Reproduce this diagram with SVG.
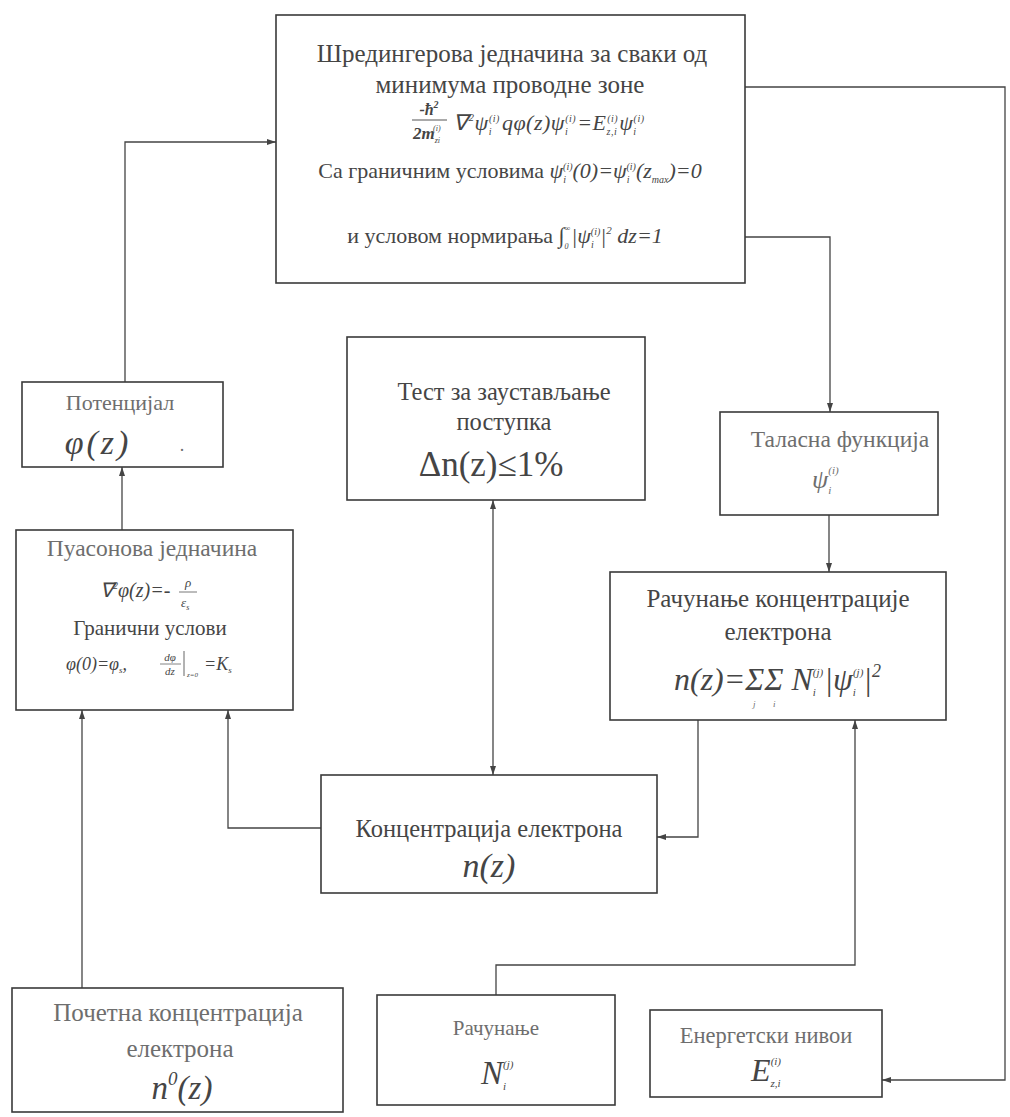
<svg xmlns="http://www.w3.org/2000/svg" width="1010" height="1117" viewBox="0 0 1010 1117">
<style>
.bx{fill:#fff;stroke:#3a3a3a;stroke-width:1.6}
.c{fill:none;stroke:#444;stroke-width:1.3}
.t{font-family:"Liberation Serif",serif;fill:#454545;text-anchor:middle}
.f{font-family:"Liberation Serif",serif;font-style:italic;fill:#454545}
.fm{font-family:"Liberation Serif",serif;font-style:italic;fill:#454545;text-anchor:middle}
.lt{fill:#6e6e6e}
.i{font-style:italic}
</style>
<defs>
<marker id="ah" markerUnits="userSpaceOnUse" markerWidth="9" markerHeight="6" refX="9" refY="3" orient="auto-start-reverse">
<path d="M0,0 L9,3 L0,6 z" fill="#444"/>
</marker>
</defs>
<rect width="1010" height="1117" fill="#fff"/>

<g id="connectors">
<polyline class="c" points="745,87 1005,87 1005,1080 882,1080" marker-end="url(#ah)"/>
<polyline class="c" points="745,237 830,237 830,412" marker-end="url(#ah)"/>
<polyline class="c" points="125,382 125,142 276,142" marker-end="url(#ah)"/>
<polyline class="c" points="122,530 122,467" marker-end="url(#ah)"/>
<polyline class="c" points="493,500 493,775" marker-start="url(#ah)" marker-end="url(#ah)"/>
<polyline class="c" points="829,515 829,572" marker-end="url(#ah)"/>
<polyline class="c" points="698,720 698,837 657,837" marker-end="url(#ah)"/>
<polyline class="c" points="321,828 228,828 228,710" marker-end="url(#ah)"/>
<polyline class="c" points="82,988 82,710" marker-end="url(#ah)"/>
<polyline class="c" points="496,995 496,965 855,965 855,720" marker-end="url(#ah)"/>
</g>

<g id="schrodinger">
<rect class="bx" x="276" y="15" width="469" height="268"/>
<text class="t" x="512" y="62" font-size="25">Шредингерова једначина за сваки од</text>
<text class="t" x="510" y="93" font-size="25">минимума проводне зоне</text>
<text class="fm" x="429" y="115" font-size="16" font-weight="bold">-ħ<tspan font-size="10" dy="-7">2</tspan></text>
<line x1="412" y1="120" x2="447" y2="120" stroke="#555" stroke-width="1"/>
<text class="f" x="413" y="139" font-size="17" font-weight="bold">2m<tspan font-size="8" font-weight="normal" dy="4">zi</tspan><tspan font-size="8" font-weight="normal" dx="-7" dy="-12">(i)</tspan></text>
<text class="f" x="453" y="130" font-size="22" letter-spacing="0.5">∇<tspan font-size="11" dy="-9">2</tspan><tspan dy="9">ψ</tspan><tspan font-size="10" dy="5">i</tspan><tspan font-size="10" dx="-3" dy="-13">(i)</tspan><tspan dx="2" dy="8">qφ(z)ψ</tspan><tspan font-size="10" dy="5">i</tspan><tspan font-size="10" dx="-3" dy="-13">(i)</tspan><tspan dx="1" dy="8">=E</tspan><tspan font-size="10" dy="5">z,i</tspan><tspan font-size="10" dx="-10" dy="-13">(i)</tspan><tspan dx="1" dy="8">ψ</tspan><tspan font-size="10" dy="5">i</tspan><tspan font-size="10" dx="-3" dy="-13">(i)</tspan></text>
<text class="t" x="510" y="178" font-size="22">Са граничним условима <tspan class="i">ψ</tspan><tspan class="i" font-size="10" dy="5">i</tspan><tspan class="i" font-size="10" dx="-3" dy="-13">(i)</tspan><tspan class="i" dy="8">(0)=ψ</tspan><tspan class="i" font-size="10" dy="5">i</tspan><tspan class="i" font-size="10" dx="-3" dy="-13">(i)</tspan><tspan class="i" dy="8">(z</tspan><tspan class="i" font-size="10" dy="5">max</tspan><tspan class="i" dy="-5">)=0</tspan></text>
<text class="t" x="505" y="243" font-size="22">и условом нормирања  <tspan class="i">∫</tspan><tspan class="i" font-size="8" dy="6">0</tspan><tspan class="i" font-size="8" dx="-4" dy="-18">∞</tspan><tspan class="i" dx="1" dy="12">|ψ</tspan><tspan class="i" font-size="10" dy="5">i</tspan><tspan class="i" font-size="10" dx="-3" dy="-13">(i)</tspan><tspan class="i" dy="8">|</tspan><tspan class="i" font-size="11" dy="-9">2</tspan><tspan class="i" dy="9"> dz=1</tspan></text>
</g>

<g id="potencijal">
<rect class="bx" x="22" y="382" width="201" height="85"/>
<text class="t lt" x="120" y="410" font-size="22">Потенцијал</text>
<text class="fm" x="98" y="454" font-size="34" letter-spacing="3">φ(z)</text>
<text class="t lt" x="182" y="451" font-size="18">.</text>
</g>

<g id="test">
<rect class="bx" x="347" y="337" width="298" height="163"/>
<text class="t" x="504" y="400" font-size="24.5">Тест за заустављање</text>
<text class="t" x="504" y="430" font-size="24.5">поступка</text>
<text class="t" x="491" y="476" font-size="35">Δn(z)≤1%</text>
</g>

<g id="talasna">
<rect class="bx" x="720" y="412" width="218" height="103"/>
<text class="t lt" x="840" y="447" font-size="23.5">Таласна функција</text>
<text class="f lt" x="812" y="488" font-size="26">ψ<tspan font-size="11" dy="6">i</tspan><tspan font-size="11" dx="-3" dy="-20">(i)</tspan></text>
</g>

<g id="poisson">
<rect class="bx" x="16" y="530" width="277" height="180"/>
<text class="t lt" x="152" y="556" font-size="23.5">Пуасонова једначина</text>
<text class="f" x="100" y="597" font-size="20">∇<tspan font-size="10" dy="-8">2</tspan><tspan dy="8">φ(z)=-</tspan></text>
<text class="fm" x="188" y="587" font-size="13">ρ</text>
<line x1="179" y1="592" x2="197" y2="592" stroke="#555" stroke-width="0.8"/>
<text class="f" x="181" y="607" font-size="13">ε<tspan font-size="8" dy="3">s</tspan></text>
<text class="t" x="150" y="635" font-size="21">Гранични услови</text>
<text class="f" x="66" y="670" font-size="18">φ(0)=φ<tspan font-size="9" dy="3">s</tspan><tspan dy="-3">,</tspan></text>
<text class="fm" x="170" y="661" font-size="11">dφ</text>
<line x1="160" y1="664" x2="181" y2="664" stroke="#666" stroke-width="0.8"/>
<text class="fm" x="170" y="675" font-size="11">dz</text>
<line x1="184" y1="651" x2="184" y2="676" stroke="#666" stroke-width="1"/>
<text class="f" x="187" y="677" font-size="7">z=0</text>
<text class="f" x="204" y="670" font-size="18">=K<tspan font-size="9" dy="3">s</tspan></text>
</g>

<g id="racunanje-koncentracije">
<rect class="bx" x="610" y="572" width="336" height="148"/>
<text class="t" x="778" y="607" font-size="25">Рачунање концентрације</text>
<text class="t" x="778" y="640" font-size="25">електрона</text>
<text class="f" x="674" y="690" font-size="32">n(z)=ΣΣ N<tspan font-size="11" dy="6">i</tspan><tspan font-size="11" dx="-3" dy="-20">(j)</tspan><tspan dx="1" dy="14">|ψ</tspan><tspan font-size="11" dy="6">i</tspan><tspan font-size="11" dx="-3" dy="-20">(j)</tspan><tspan dy="14">|</tspan><tspan font-size="18" dy="-13">2</tspan></text>
<text class="f lt" x="753" y="707" font-size="9">j</text>
<text class="f lt" x="773" y="707" font-size="9">i</text>
</g>

<g id="koncentracija">
<rect class="bx" x="321" y="775" width="336" height="118"/>
<text class="t" x="489" y="837" font-size="24.5">Концентрација електрона</text>
<text class="fm" x="489" y="877" font-size="34">n(z)</text>
</g>

<g id="pocetna">
<rect class="bx" x="12" y="988" width="331" height="124"/>
<text class="t lt" x="178" y="1021" font-size="25">Почетна концентрација</text>
<text class="t lt" x="180" y="1057" font-size="25">електрона</text>
<text class="fm" x="182" y="1099" font-size="33">n<tspan font-size="19" dy="-14">0</tspan><tspan dy="14">(z)</tspan></text>
</g>

<g id="racunanje-n">
<rect class="bx" x="377" y="995" width="238" height="110"/>
<text class="t lt" x="496" y="1035" font-size="21">Рачунање</text>
<text class="f" x="481" y="1084" font-size="33">N<tspan font-size="11" dy="6">i</tspan><tspan font-size="11" dx="-3" dy="-22">(j)</tspan></text>
</g>

<g id="energetski">
<rect class="bx" x="650" y="1010" width="232" height="87"/>
<text class="t lt" x="766" y="1043" font-size="22.5">Енергетски нивои</text>
<text class="f" x="751" y="1081" font-size="32">E<tspan font-size="11" dy="6">z,i</tspan><tspan font-size="11" dx="-10" dy="-22">(i)</tspan></text>
</g>
</svg>
